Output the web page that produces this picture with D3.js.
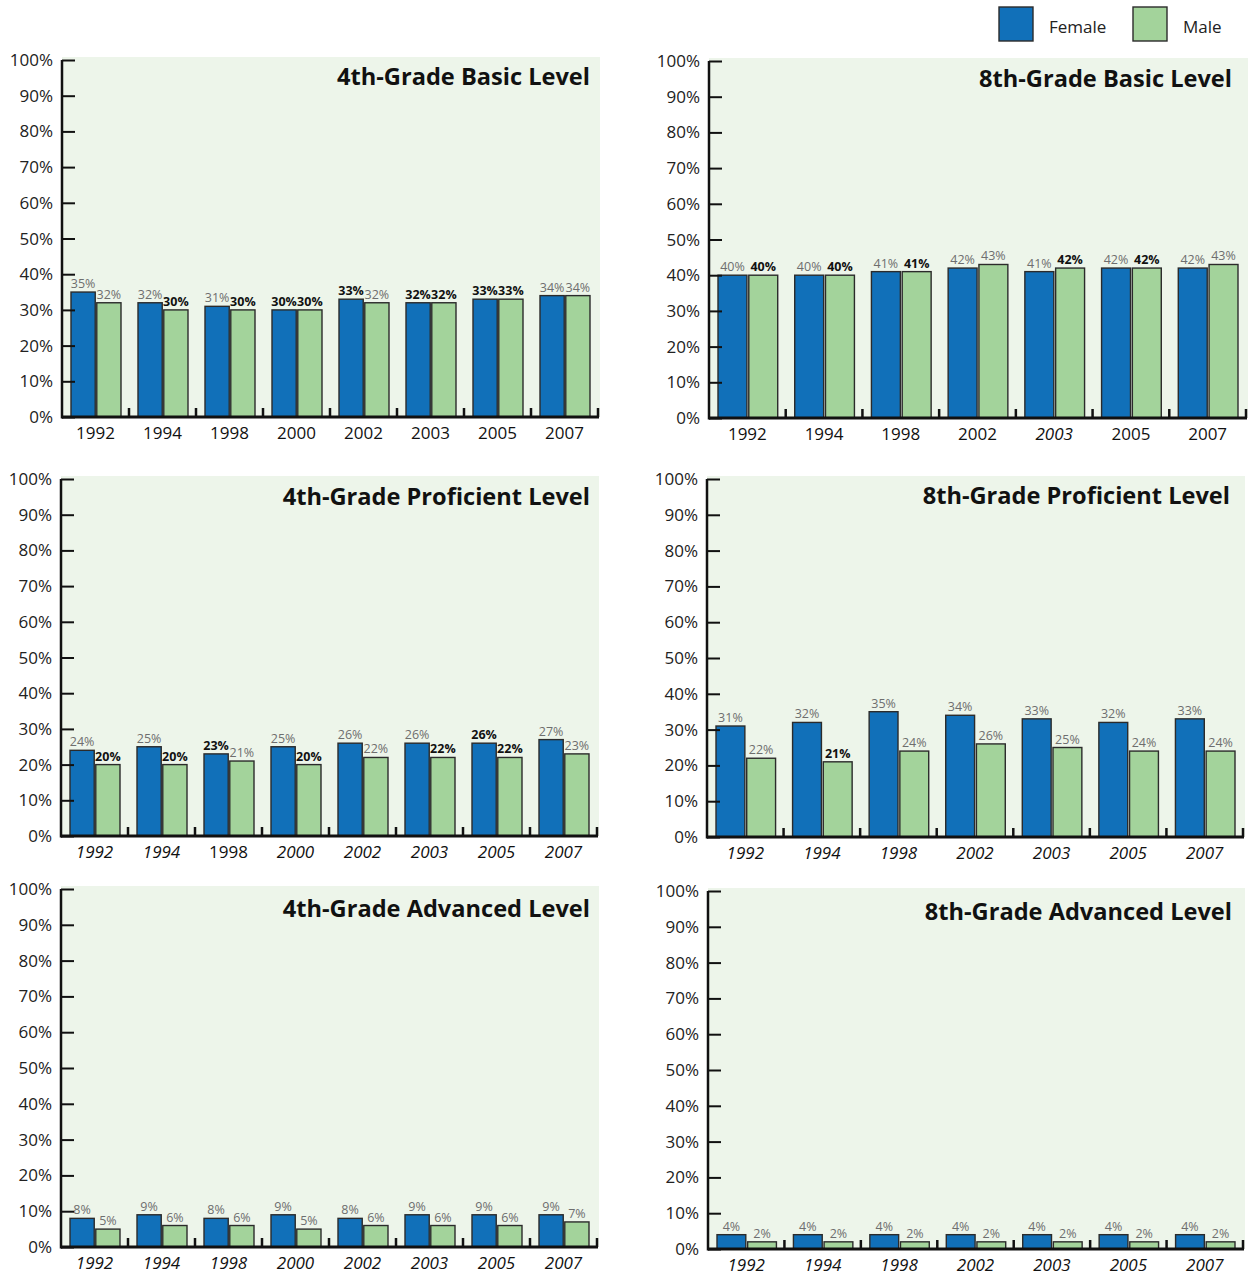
<!DOCTYPE html>
<html><head><meta charset="utf-8">
<script src="https://cdn.jsdelivr.net/npm/d3@7"></script>
<style>
body{margin:0;background:#fff;}
svg{display:block;font-family:"Open Sans",sans-serif;}
</style></head>
<body><svg id="c" width="1256" height="1278"></svg>
<script>
// ---- data ----
const years4 = ["1992","1994","1998","2000","2002","2003","2005","2007"];
const years8 = ["1992","1994","1998","2002","2003","2005","2007"];
const yTicks = [0,10,20,30,40,50,60,70,80,90,100];
const sexes = ["Female","Male"];

const g4BasicF = [35,32,31,30,33,32,33,34];
const g4BasicM = [32,30,30,30,32,32,33,34];
const g4BasicFBold = [0,0,0,1,1,1,1,0];
const g4BasicMBold = [0,1,1,1,0,1,1,0];
const g4BasicItalic = [0,0,0,0,0,0,0,0];

const g8BasicF = [40,40,41,42,41,42,42];
const g8BasicM = [40,40,41,43,42,42,43];
const g8BasicFBold = [0,0,0,0,0,0,0];
const g8BasicMBold = [1,1,1,0,1,1,0];
const g8BasicItalic = [0,0,0,0,1,0,0];

const g4ProfF = [24,25,23,25,26,26,26,27];
const g4ProfM = [20,20,21,20,22,22,22,23];
const g4ProfFBold = [0,0,1,0,0,0,1,0];
const g4ProfMBold = [1,1,0,1,0,1,1,0];
const g4ProfItalic = [1,1,0,1,1,1,1,1];

const g8ProfF = [31,32,35,34,33,32,33];
const g8ProfM = [22,21,24,26,25,24,24];
const g8ProfFBold = [0,0,0,0,0,0,0];
const g8ProfMBold = [0,1,0,0,0,0,0];
const g8ProfItalic = [1,1,1,1,1,1,1];

const g4AdvF = [8,9,8,9,8,9,9,9];
const g4AdvM = [5,6,6,5,6,6,6,7];
const g4AdvFBold = [0,0,0,0,0,0,0,0];
const g4AdvMBold = [0,0,0,0,0,0,0,0];
const g4AdvItalic = [1,1,1,1,1,1,1,1];

const g8AdvF = [4,4,4,4,4,4,4];
const g8AdvM = [2,2,2,2,2,2,2];
const g8AdvFBold = [0,0,0,0,0,0,0];
const g8AdvMBold = [0,0,0,0,0,0,0];
const g8AdvItalic = [1,1,1,1,1,1,1];

const colors = {Female:"#1170b9", Male:"#a3d39b"};

// ---- layout ----
const panels = [
  {title:"4th-Grade Basic Level", years:years4, F:g4BasicF, M:g4BasicM, FB:g4BasicFBold, MB:g4BasicMBold, it:g4BasicItalic,
   x0:62, x1:598, y0:417, y1:60, tx:590, ty:85},
  {title:"8th-Grade Basic Level", years:years8, F:g8BasicF, M:g8BasicM, FB:g8BasicFBold, MB:g8BasicMBold, it:g8BasicItalic,
   x0:709, x1:1246, y0:418, y1:61, tx:1232, ty:87},
  {title:"4th-Grade Proficient Level", years:years4, F:g4ProfF, M:g4ProfM, FB:g4ProfFBold, MB:g4ProfMBold, it:g4ProfItalic,
   x0:61, x1:597, y0:836, y1:479, tx:590, ty:505},
  {title:"8th-Grade Proficient Level", years:years8, F:g8ProfF, M:g8ProfM, FB:g8ProfFBold, MB:g8ProfMBold, it:g8ProfItalic,
   x0:707, x1:1243, y0:837, y1:479, tx:1230, ty:504},
  {title:"4th-Grade Advanced Level", years:years4, F:g4AdvF, M:g4AdvM, FB:g4AdvFBold, MB:g4AdvMBold, it:g4AdvItalic,
   x0:61, x1:597, y0:1247, y1:889, tx:590, ty:917},
  {title:"8th-Grade Advanced Level", years:years8, F:g8AdvF, M:g8AdvM, FB:g8AdvFBold, MB:g8AdvMBold, it:g8AdvItalic,
   x0:708, x1:1243, y0:1249, y1:891, tx:1232, ty:920}
];

const svg = d3.select("#c");

panels.forEach(p => {
  const g = svg.append("g");
  const x = d3.scaleBand().domain(p.years).range([p.x0, p.x1]);
  const W = x.bandwidth();
  const xs = d3.scaleBand().domain(sexes).range([9, W-8]).paddingInner(0.06);
  const y = d3.scaleLinear().domain([0,100]).range([p.y0, p.y1]);

  // background
  g.append("rect").attr("x", p.x0).attr("y", p.y1-3)
    .attr("width", p.x1 - p.x0 + 2).attr("height", p.y0 - p.y1 + 3)
    .attr("fill", "#edf5ea");

  // title
  g.append("text").attr("x", p.tx).attr("y", p.ty).attr("text-anchor","end")
    .attr("font-weight","bold").attr("font-size",23.6).attr("fill","#111").text(p.title);

  // bars
  const rows = p.years.map((yr,i)=>({yr, vals:[
    {s:"Female", v:p.F[i], b:p.FB[i]}, {s:"Male", v:p.M[i], b:p.MB[i]}]}));
  const grp = g.selectAll("g.grp").data(rows).join("g").attr("class","grp")
    .attr("transform", d=>`translate(${x(d.yr)},0)`);
  grp.selectAll("rect").data(d=>d.vals).join("rect")
    .attr("x", d=>xs(d.s)).attr("width", xs.bandwidth())
    .attr("y", d=>y(d.v)).attr("height", d=>y(0)-y(d.v))
    .attr("fill", d=>colors[d.s]).attr("stroke","#2b2b2b").attr("stroke-width",1.4);
  grp.selectAll("text").data(d=>d.vals).join("text")
    .attr("x", d=>xs(d.s)+xs.bandwidth()/2).attr("y", d=>y(d.v)-4)
    .attr("text-anchor","middle").attr("font-size",12.5)
    .attr("font-weight", d=>d.b?"bold":"normal")
    .attr("fill", d=>d.b?"#111":"#6e6e6e")
    .text(d=>d.v+"%");

  // y axis
  const ya = d3.axisRight(y).tickValues(yTicks).tickSize(13).tickFormat("");
  const yg = g.append("g").attr("transform",`translate(${p.x0},0)`).call(ya);
  yg.select(".domain").remove();
  yg.selectAll("line").attr("stroke","#111").attr("stroke-width",2);
  g.selectAll("text.yl").data(yTicks).join("text").attr("class","yl")
    .attr("x", p.x0-9).attr("y", d=>y(d)+6).attr("text-anchor","end")
    .attr("font-size",17).attr("fill","#222").text(d=>d+"%");
  g.append("line").attr("x1",p.x0).attr("x2",p.x0).attr("y1",p.y1).attr("y2",p.y0+1.5)
    .attr("stroke","#111").attr("stroke-width",2.5);

  // x axis
  g.append("line").attr("x1",p.x0).attr("x2",p.x1+1).attr("y1",p.y0).attr("y2",p.y0)
    .attr("stroke","#111").attr("stroke-width",3);
  g.selectAll("line.sep").data(p.years).join("line").attr("class","sep")
    .attr("x1", d=>x(d)+W).attr("x2", d=>x(d)+W)
    .attr("y1", p.y0).attr("y2", p.y0-9).attr("stroke","#111").attr("stroke-width",2.5);
  g.selectAll("text.xl").data(p.years).join("text").attr("class","xl")
    .attr("x", d=>x(d)+W/2).attr("y", p.y0+22).attr("text-anchor","middle")
    .attr("font-size",17).attr("fill","#111")
    .attr("font-style", (d,i)=>p.it[i]?"italic":"normal")
    .text(d=>d);
});

// legend
const lg = svg.append("g");
const lx = d3.scaleOrdinal().domain(sexes).range([999, 1133]);
lg.selectAll("rect").data(sexes).join("rect")
  .attr("x", d=>lx(d)).attr("y",7).attr("width",34).attr("height",34)
  .attr("fill", d=>colors[d]).attr("stroke","#2b2b2b").attr("stroke-width",1.4);
lg.selectAll("text").data(sexes).join("text")
  .attr("x", d=>lx(d)+50).attr("y",33).attr("font-size",17).attr("fill","#222").text(d=>d);
</script></body></html>
